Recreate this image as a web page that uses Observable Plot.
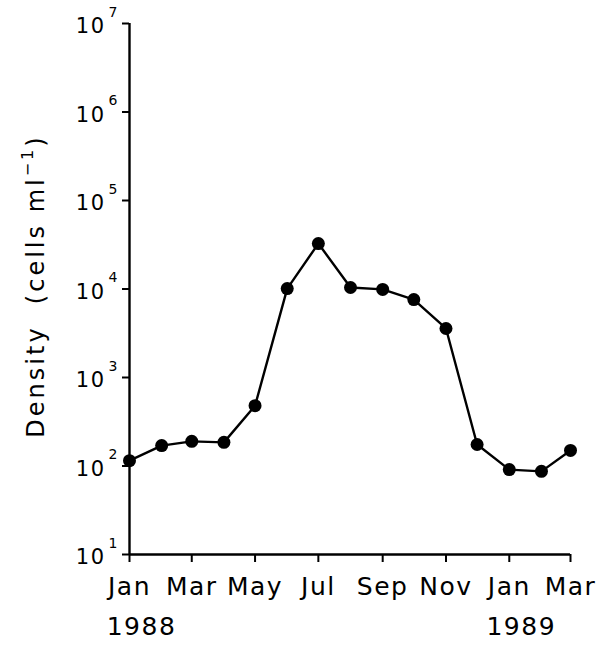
<!DOCTYPE html>
<html>
<head>
<meta charset="utf-8">
<script src="https://cdn.jsdelivr.net/npm/d3@7"></script>
<script src="https://cdn.jsdelivr.net/npm/@observablehq/plot@0.6"></script>
<style>
  html, body { margin: 0; padding: 0; background: #fff; }
  svg { font-family: "DejaVu Sans", sans-serif; }
  svg text { letter-spacing: 1.5px; }
</style>
</head>
<body>
<div id="chart"></div>
<script>
// ---- data ----
const months = ["1988-01","1988-02","1988-03","1988-04","1988-05","1988-06","1988-07",
                "1988-08","1988-09","1988-10","1988-11","1988-12","1989-01","1989-02","1989-03"];
const density = [115, 170, 190, 185, 480, 10100, 32600, 10400, 9900, 7600, 3580, 175, 91, 87, 150];
const monthTickLabels = ["Jan","Mar","May","Jul","Sep","Nov","Jan","Mar"];
const yearLabels = ["1988","1989"];
const yearPositions = ["1988-01","1989-01"];
const yTicks = [1e1, 1e2, 1e3, 1e4, 1e5, 1e6, 1e7];
const yExponents = ["1","2","3","4","5","6","7"];

const parse = d3.utcParse("%Y-%m");
const data = months.map((m, i) => ({date: parse(m), value: density[i]}));
const xTicks = d3.utcMonth.range(parse("1988-01"), d3.utcMonth.offset(parse("1989-03"), 1), 2);
const xStart = parse("1988-01"), xEnd = parse("1989-03");

const chart = Plot.plot({
  width: 602,
  height: 646,
  marginTop: 23,
  marginBottom: 92,
  marginLeft: 129,
  marginRight: 32,
  style: {fontFamily: "DejaVu Sans, sans-serif", background: "#fff", color: "#000"},
  x: {type: "utc", domain: [xStart, xEnd]},
  y: {type: "log", domain: [10, 1e7]},
  marks: [
    // axis lines
    Plot.ruleY([10], {x1: xStart, x2: xEnd, stroke: "#000", strokeWidth: 2.4}),
    Plot.ruleX([xStart], {y1: 10, y2: 1e7, stroke: "#000", strokeWidth: 2.4}),
    // x axis ticks & labels
    Plot.axisX({ticks: xTicks, tickSize: 8, strokeWidth: 2, tickPadding: 15,
      tickFormat: (d, i) => monthTickLabels[i], fontSize: 25, label: null, stroke: "#000", fill: "#000"}),
    Plot.text(yearPositions.map((p, i) => ({date: parse(p), label: yearLabels[i]})), {
      x: "date", text: "label", frameAnchor: "bottom", dy: 80, dx: 12, fontSize: 25, fill: "#000"
    }),
    // y axis ticks & labels
    Plot.axisY({ticks: yTicks, tickSize: 7, strokeWidth: 2, tickFormat: () => "", label: null, stroke: "#000"}),
    Plot.text(yTicks, {y: d => d, text: () => "10", frameAnchor: "left", textAnchor: "end",
      dx: -24, dy: 3, fontSize: 21, fill: "#000"}),
    Plot.text(yTicks, {y: d => d, text: (d, i) => yExponents[i], frameAnchor: "left", textAnchor: "start",
      dx: -21, dy: -11, fontSize: 14, fill: "#000"}),
    // series
    Plot.line(data, {x: "date", y: "value", stroke: "#000", strokeWidth: 2.4}),
    Plot.dot(data, {x: "date", y: "value", r: 6.5, fill: "#000", stroke: "none"})
  ]
});

document.getElementById("chart").appendChild(chart);

// rotated y-axis title with superscript
const svg = d3.select(chart);
const t = svg.append("text")
  .attr("transform", "translate(44,286) rotate(-90)")
  .attr("text-anchor", "middle")
  .attr("font-size", 24)
  .style("letter-spacing", "3px")
  .attr("fill", "#000");
t.append("tspan").text("Density  (cells ml");
t.append("tspan").attr("dy", -11).attr("font-size", 16).text("−1");
t.append("tspan").attr("dy", 11).text(")");
</script>
</body>
</html>
